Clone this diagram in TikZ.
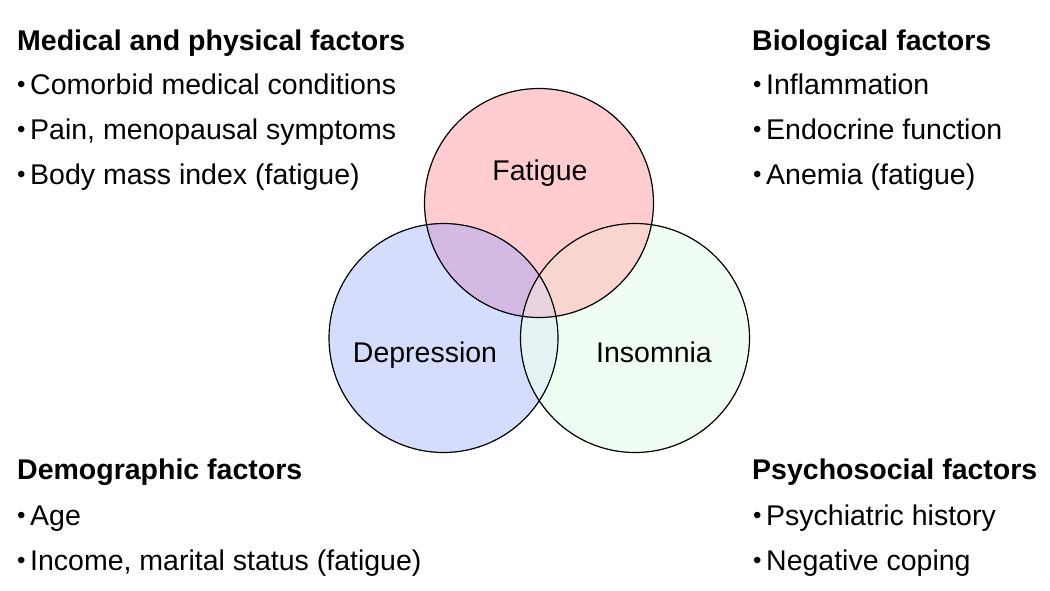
\documentclass[tikz,border=0pt]{standalone}
\usepackage{fontspec}
\setmainfont{Liberation Sans}
\definecolor{cF}{RGB}{255,204,208}
\definecolor{cD}{RGB}{212,222,252}
\definecolor{cI}{RGB}{240,253,242}
\definecolor{cFD}{RGB}{212,186,226}
\definecolor{cFI}{RGB}{248,214,206}
\definecolor{cDI}{RGB}{228,242,242}
\definecolor{cFDI}{RGB}{232,212,222}
\begin{document}
\begin{tikzpicture}[x=1pt,y=-1pt,
  txt/.style={font=\fontsize{28.5}{34}\selectfont,anchor=base west,inner sep=0pt},
  head/.style={txt,font=\fontsize{28.5}{34}\selectfont\bfseries},
  bul/.style={txt,font=\fontsize{24}{30}\selectfont},
  lbl/.style={font=\fontsize{28.5}{34}\selectfont,anchor=base,inner sep=0pt},
  ring/.style={draw=black,line width=1.2pt}]
\useasboundingbox (0,0) rectangle (1050,590);
\fill[white] (0,0) rectangle (1050,590);
\def\RR{114.5}
\coordinate (cf) at (539,203);
\coordinate (cd) at (443.5,338);
\coordinate (ci) at (635,338);
% fills
\fill[cF] (cf) circle (\RR);
\fill[cD] (cd) circle (\RR);
\fill[cI] (ci) circle (\RR);
\begin{scope}\clip (cf) circle (\RR); \fill[cFD] (cd) circle (\RR); \fill[cFI] (ci) circle (\RR);
  \clip (cd) circle (\RR); \fill[cFDI] (ci) circle (\RR); \end{scope}
\begin{scope}\clip (cd) circle (\RR); \clip (ci) circle (\RR);
  \fill[cDI] (ci) circle (\RR);
  \clip (cf) circle (\RR); \fill[cFDI] (cf) circle (\RR); \end{scope}
% outlines
\node[ring,circle,minimum size=229pt,inner sep=0pt] (fat) at (cf) {};
\node[ring,circle,minimum size=229pt,inner sep=0pt] (dep) at (cd) {};
\node[ring,circle,minimum size=229pt,inner sep=0pt] (ins) at (ci) {};
\node[lbl] (lf) at (540,180) {Fatigue};
\node[lbl] (ld) at (425,362) {Depression};
\node[lbl] (li) at (654,362) {Insomnia};
% text blocks
\node[head] (h1) at (17,50) {Medical and physical factors};
\node[bul] (b11) at (17,92) {•};
\node[txt] (t11) at (30,94) {Comorbid medical conditions};
\node[bul] (b12) at (17,137) {•};
\node[txt] (t12) at (30,139) {Pain, menopausal symptoms};
\node[bul] (b13) at (17,182) {•};
\node[txt] (t13) at (30,184) {Body mass index (fatigue)};
\node[head] (h2) at (752,50) {Biological factors};
\node[bul] (b21) at (753,92) {•};
\node[txt] (t21) at (766,94) {Inflammation};
\node[bul] (b22) at (753,137) {•};
\node[txt] (t22) at (766,139) {Endocrine function};
\node[bul] (b23) at (753,182) {•};
\node[txt] (t23) at (766,184) {Anemia (fatigue)};
\node[head] (h3) at (17,479) {Demographic factors};
\node[bul] (b31) at (17,523) {•};
\node[txt] (t31) at (30,525) {Age};
\node[bul] (b32) at (17,568) {•};
\node[txt] (t32) at (30,570) {Income, marital status (fatigue)};
\node[head] (h4) at (752,479) {Psychosocial factors};
\node[bul] (b41) at (753,523) {•};
\node[txt] (t41) at (766,525) {Psychiatric history};
\node[bul] (b42) at (753,568) {•};
\node[txt] (t42) at (766,570) {Negative coping};
\end{tikzpicture}
\end{document}
